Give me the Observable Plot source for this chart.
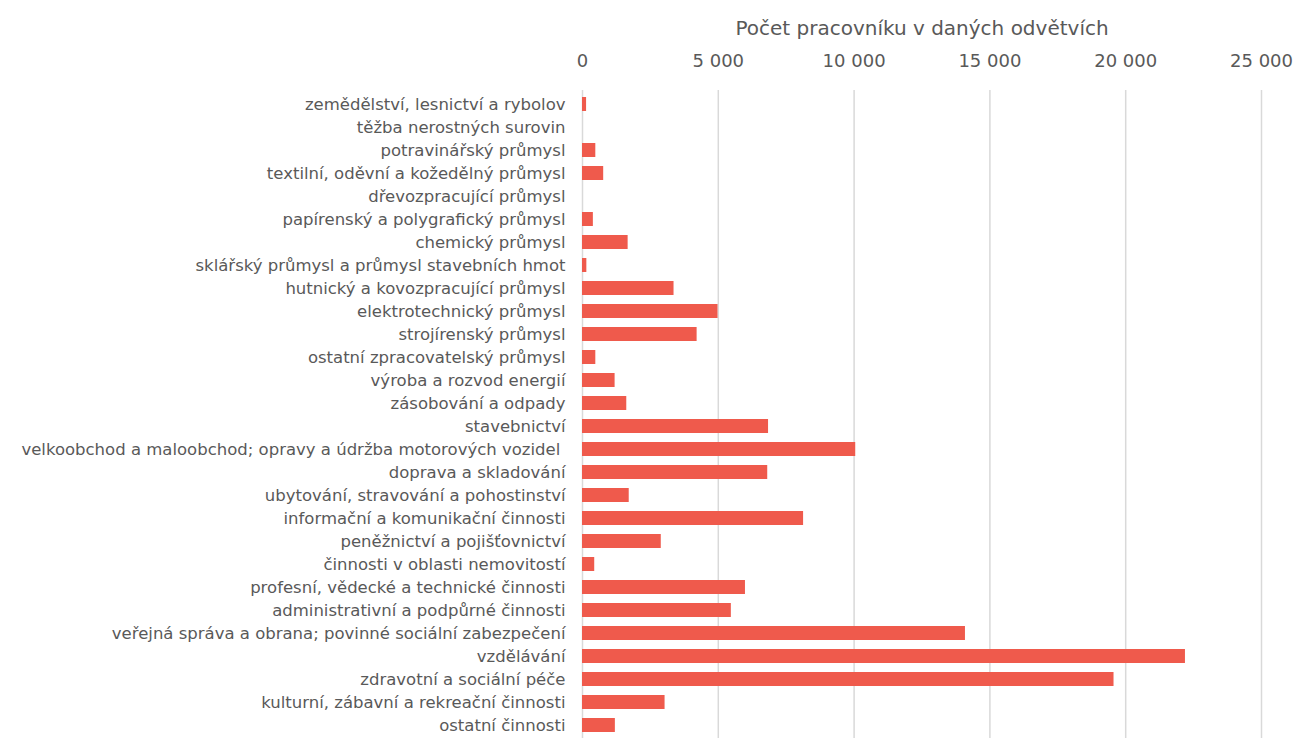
<!DOCTYPE html>
<html>
<head>
<meta charset="utf-8">
<script src="https://cdn.jsdelivr.net/npm/d3@7"></script>
<script src="https://cdn.jsdelivr.net/npm/@observablehq/plot@0.6"></script>
<style>
  html, body { margin: 0; padding: 0; background: #fff; }
  #chart svg { display: block; }
</style>
</head>
<body>
<div id="chart"></div>
<script>
// Employees by industry (count of workers)
const categories = [
  "zemědělství, lesnictví a rybolov",
  "těžba nerostných surovin",
  "potravinářský průmysl",
  "textilní, oděvní a kožedělný průmysl",
  "dřevozpracující průmysl",
  "papírenský a polygrafický průmysl",
  "chemický průmysl",
  "sklářský průmysl a průmysl stavebních hmot",
  "hutnický a kovozpracující průmysl",
  "elektrotechnický průmysl",
  "strojírenský průmysl",
  "ostatní zpracovatelský průmysl",
  "výroba a rozvod energií",
  "zásobování a odpady",
  "stavebnictví",
  "velkoobchod a maloobchod; opravy a údržba motorových vozidel ",
  "doprava a skladování",
  "ubytování, stravování a pohostinství",
  "informační a komunikační činnosti",
  "peněžnictví a pojišťovnictví",
  "činnosti v oblasti nemovitostí",
  "profesní, vědecké a technické činnosti",
  "administrativní a podpůrné činnosti",
  "veřejná správa a obrana; povinné sociální zabezpečení",
  "vzdělávání",
  "zdravotní a sociální péče",
  "kulturní, zábavní a rekreační činnosti",
  "ostatní činnosti"
];
const workers = [
  150, 0, 490, 780, 0, 400, 1680, 160, 3370, 4990, 4220, 490, 1200, 1630,
  6850, 10060, 6820, 1720, 8140, 2900, 450, 6000, 5480, 14100, 22200, 19570, 3040, 1210
];
const xTicks = [0, 5000, 10000, 15000, 20000, 25000];
const title = "Počet pracovníku v daných odvětvích";

const rows = categories.map((c, i) => ({category: c, value: workers[i]}));
const fmt = d => d3.format(",")(d).replace(/,/g, "\u00a0");

const chart = Plot.plot({
  width: 1300,
  height: 738,
  marginTop: 90,
  marginBottom: 0,
  marginLeft: 582,
  marginRight: 39,
  style: {fontFamily: "'DejaVu Sans', sans-serif", color: "#595959", background: "#fff"},
  x: {domain: [0, 25000]},
  y: {domain: categories, paddingInner: 0.4, paddingOuter: 0.2},
  marks: [
    Plot.gridX(xTicks, {stroke: "#d9d9d9", strokeOpacity: 1, strokeWidth: 1.5}),
    Plot.barX(rows, {x: "value", y: "category", fill: "#ef5a4c"}),
    Plot.axisX(xTicks, {
      anchor: "top", tickSize: 0, tickPadding: 24, tickFormat: fmt,
      fontSize: 18, fill: "#595959", label: null
    }),
    Plot.axisY({
      anchor: "left", tickSize: 0, tickPadding: 17,
      fontSize: 16.5, fill: "#595959", label: null
    }),
    Plot.text([title], {
      frameAnchor: "top", dy: -70, fontSize: 20, fill: "#595959"
    })
  ]
});
document.getElementById("chart").appendChild(chart);
</script>
</body>
</html>
